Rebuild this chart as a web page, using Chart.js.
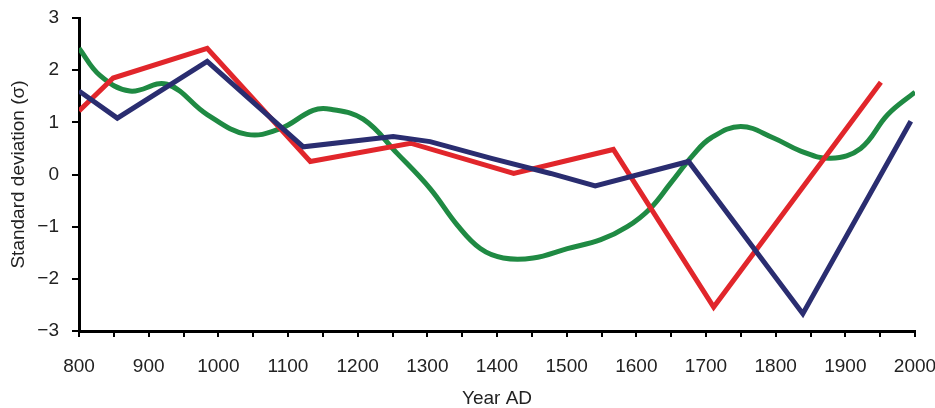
<!DOCTYPE html>
<html lang="en">
<head>
<meta charset="UTF-8">
<title>Standard deviation by year</title>
<script src="https://cdn.jsdelivr.net/npm/chart.js@4"></script>
<style>
  html, body { margin: 0; padding: 0; background: #fff; }
  #wrap { width: 935px; height: 408px; }
</style>
</head>
<body>
<div id="wrap"><canvas id="chart" width="935" height="408"></canvas></div>
<script>
// Series (year, standard deviation)
const blueYears  = [800, 855, 984, 1122, 1251, 1304, 1392, 1477, 1541, 1675, 1839, 1994];
const blueValues = [1.6, 1.08, 2.17, 0.53, 0.73, 0.63, 0.31, 0.02, -0.22, 0.25, -2.67, 1.02];

const redYears  = [800, 849, 984, 1132, 1276, 1424, 1567, 1711, 1951];
const redValues = [1.22, 1.85, 2.42, 0.25, 0.6, 0.02, 0.48, -2.54, 1.77];

const greenYears  = [800, 830, 873, 926, 984, 1041, 1089, 1136, 1161, 1208, 1257, 1304, 1343, 1376, 1409, 1452, 1501, 1549, 1587, 1620, 1649, 1682, 1707, 1750, 1797, 1836, 1879, 1922, 1961, 2000];
const greenValues = [2.42, 1.9, 1.6, 1.73, 1.15, 0.77, 0.88, 1.23, 1.25, 1.06, 0.4, -0.27, -0.97, -1.42, -1.6, -1.6, -1.42, -1.25, -1.0, -0.65, -0.17, 0.38, 0.7, 0.92, 0.7, 0.45, 0.31, 0.5, 1.15, 1.58];

const xTicks = [800, 900, 1000, 1100, 1200, 1300, 1400, 1500, 1600, 1700, 1800, 1900, 2000];
const yTicks = [-3, -2, -1, 0, 1, 2, 3];

const toPoints = (xs, ys) => xs.map((x, i) => ({ x: x, y: ys[i] }));

const font = { family: 'Liberation Sans, Arial, sans-serif', size: 19 };
const textColor = '#222';

new Chart(document.getElementById('chart'), {
  type: 'line',
  data: {
    datasets: [
      {
        label: 'Blue',
        data: toPoints(blueYears, blueValues),
        borderColor: '#2a2d70',
        borderWidth: 5,
        pointRadius: 0,
        tension: 0
      },
      {
        label: 'Red',
        data: toPoints(redYears, redValues),
        borderColor: '#e1262b',
        borderWidth: 5,
        pointRadius: 0,
        tension: 0
      },
      {
        label: 'Green',
        data: toPoints(greenYears, greenValues),
        borderColor: '#1f8a43',
        borderWidth: 5,
        pointRadius: 0,
        tension: 0.4
      }
    ]
  },
  options: {
    responsive: false,
    animation: false,
    layout: { padding: { left: 0, top: 18, right: 20, bottom: 0 } },
    plugins: { legend: { display: false }, tooltip: { enabled: false } },
    scales: {
      x: {
        type: 'linear',
        min: 800,
        max: 2000,
        afterBuildTicks: (scale) => {
          const t = [];
          for (let v = 800; v <= 2000; v += 50) t.push({ value: v });
          scale.ticks = t;
        },
        afterFit: (scale) => {
          scale.height = 77;
          scale.paddingLeft = 0;
          scale.paddingRight = 0;
        },
        ticks: {
          autoSkip: false,
          maxRotation: 0,
          padding: 18,
          color: textColor,
          font: font,
          callback: (v) => xTicks.includes(v) ? String(v) : ''
        },
        grid: { drawOnChartArea: false, drawTicks: true, tickLength: 6, color: '#000', lineWidth: 2 },
        border: { color: '#000', width: 3 },
        title: { display: true, text: 'Year AD', color: textColor, font: font, padding: { top: 0, bottom: -2 } }
      },
      y: {
        min: -3,
        max: 3,
        afterBuildTicks: (scale) => { scale.ticks = yTicks.map(v => ({ value: v })); },
        afterFit: (scale) => {
          scale.width = 79;
          scale.paddingTop = 0;
          scale.paddingBottom = 0;
        },
        ticks: {
          padding: 13,
          color: textColor,
          font: font,
          callback: (v) => v < 0 ? '\u2212' + Math.abs(v) : String(v)
        },
        grid: { drawOnChartArea: false, drawTicks: true, tickLength: 7, color: '#000', lineWidth: 2 },
        border: { color: '#000', width: 3 },
        title: { display: true, text: 'Standard deviation (\u03c3)', color: textColor, font: font, padding: { top: 7, bottom: 0 } }
      }
    }
  }
});
</script>
</body>
</html>
